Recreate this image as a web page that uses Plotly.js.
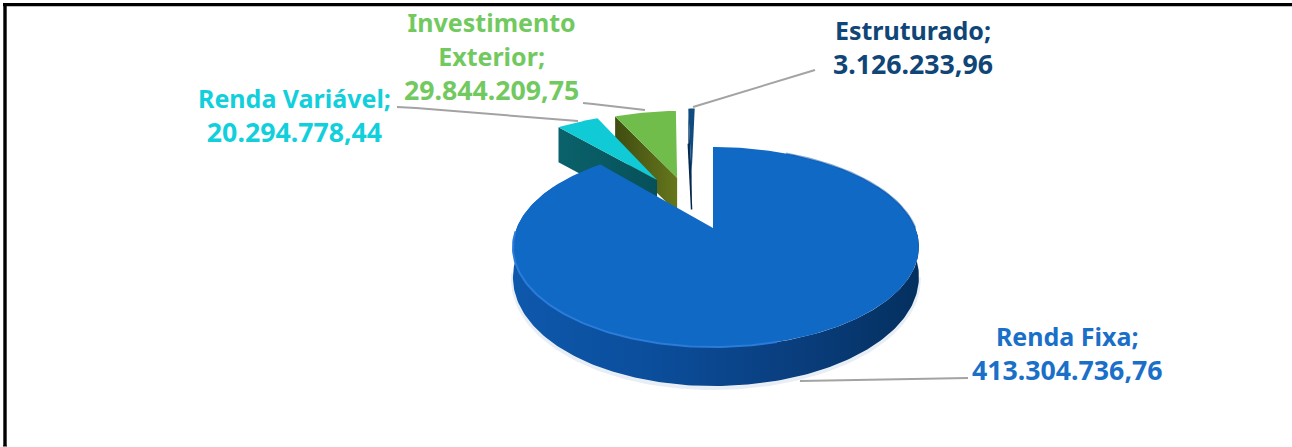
<!DOCTYPE html>
<html><head><meta charset="utf-8">
<script src="https://cdn.plot.ly/plotly-3.0.1.min.js"></script>
<style>html,body{margin:0;padding:0;background:#fff;overflow:hidden}#c{width:1292px;height:447px}</style>
</head><body><div id="c"></div>
<script>
const categories = ['Renda Fixa','Renda Variável','Investimento Exterior','Estruturado'];
const values = [413304736.76, 20294778.44, 29844209.75, 3126233.96];
const valueLabels = ['413.304.736,76','20.294.778,44','29.844.209,75','3.126.233,96'];

// Styles
const topColors  = ['#1169c6','#10cbd6','#70bd4c','#0f4a80'];
const sideColors = [['#0e58ac','#0b4e9c','#0a3f80','#04305f'],['#0a626a','#07505a'],['#3f4c10','#66761c'],['#0a3a6a','#06284c']];
const explodeU = [0,-0.31,-0.20,-0.12];
const explodeV = [0,0.55,0.58,0.62];

// 3D projection of the pie plane
const cx=713, cy=228, A=96.4, B=199.3, k=0.19;
function P(u,v,d,skew){const w=1+k*v;return [cx+B*u/w+(skew?3*Math.abs(u):0), cy-A*v/w+d];}
const total = values.reduce((a,b)=>a+b,0);
const traces=[];
let acc=0; const spans=values.map(v=>{const s=[acc/total*360,(acc+v)/total*360];acc+=v;return s;});
function arc(i,a0,a1,dep){
  const pts=[],n=Math.max(2,Math.ceil(Math.abs(a1-a0)));
  for(let j=0;j<=n;j++){const t=(a0+(a1-a0)*j/n)*Math.PI/180,u=Math.sin(t),v=Math.cos(t);
    pts.push(P(u+explodeU[i],v+explodeV[i],dep(v),i===0));}
  return pts;
}
function poly(pts,extra){traces.push(Object.assign({type:'scatter',mode:'lines',x:pts.map(p=>p[0]),y:pts.map(p=>p[1]),
  fill:'toself',line:{width:0},hoverinfo:'skip',showlegend:false},extra));}
function line(pts,color,w){traces.push({type:'scatter',mode:'lines',x:pts.map(p=>p[0]),y:pts.map(p=>p[1]),
  line:{width:w,color:color},hoverinfo:'skip',showlegend:false});}
function grad(cols){return {fillgradient:{type:'horizontal',colorscale:cols.map((c,i)=>[i/(cols.length-1),c])},fillcolor:cols[0]};}

// exploded slices, back to front
[3,2,1].forEach(i=>{
  const s=spans[i], top=arc(i,s[0],s[1],()=>0);
  const apex=P(explodeU[i],explodeV[i],0), apexB=P(explodeU[i],explodeV[i],35);
  const c0=top[0], c0b=[c0[0],c0[1]+35];
  poly([apex,c0,c0b,apexB,apex],grad(sideColors[i]));
  if(i===3) line([c0b,apexB],'#06284c',1.5);
  poly([apex].concat(top,[apex]),{fillcolor:topColors[i]});
});
// main slice
const depth=v=>v<0?28-11*v:28;
const s0=spans[0];
// soft halo under the front edge
line(arc(0,100,262,v=>depth(v)+2),'rgba(190,205,225,0.35)',4);
const sideTop=arc(0,62,298,()=>0), sideBot=arc(0,62,298,depth).reverse();
poly(sideTop.concat(sideBot),grad(sideColors[0]));
const apex0=P(0,0,0);
poly([apex0].concat(arc(0,s0[0],s0[1],()=>0),[apex0]),{fillcolor:topColors[0]});
line(arc(0,165,268,()=>0),'#2a7cd8',2);
line(arc(0,25,90,()=>0),'rgba(14,88,170,0.5)',2);

// leader lines
const leaders=[
 [[800,381],[968,378]],
 [[397,107],[416,108],[578,121]],
 [[583,103],[593,104],[645,110]],
 [[693,107],[815,70]]
];
leaders.forEach(l=>line(l,'#a3a3a3',2));

const fnt='"Noto Sans", sans-serif', baseSize=26, nameSize=25, valueSize=26.7;
const labelNames=['Renda Fixa;','Renda Variável;','Investimento<br>Exterior;','Estruturado;'];
const labelColors=['#1a6fc9','#12cfdc','#72c95f','#0f4677'];
const labelCx=[1067,294.5,491.5,913];
const labelCy=[353,115,56.5,47.5];
const nameSpan=t=>t.split('<br>').map(s=>'<span style="font-size:'+nameSize+'px">'+s+'</span>').join('<br>');
const annotations=labelNames.map((t,i)=>({
  text:'<b>'+nameSpan(t)+'<br><span style="font-size:'+valueSize+'px">'+valueLabels[i]+'</span></b>',
  x:labelCx[i],y:labelCy[i],xref:'x',yref:'y',showarrow:false,xanchor:'center',yanchor:'middle',align:'center',
  font:{family:fnt,size:baseSize,color:labelColors[i]}}));

const frame={type:'line',xref:'x',yref:'y',line:{color:'#000',width:3.4}};
const shapes=[
 Object.assign({x0:3,x1:1292,y0:4.6,y1:4.6},frame),
 Object.assign({x0:5,x1:5,y0:3,y1:446},frame),
 {type:'line',xref:'x',yref:'y',x0:3,x1:7,y0:446,y1:446,line:{color:'#000',width:1}}
];
Plotly.newPlot('c',traces,{
  width:1292,height:447,margin:{l:0,r:0,t:0,b:0},paper_bgcolor:'#fff',plot_bgcolor:'#fff',showlegend:false,
  xaxis:{range:[0,1292],visible:false,fixedrange:true},
  yaxis:{range:[447,0],visible:false,fixedrange:true},
  annotations:annotations,shapes:shapes
},{displayModeBar:false,staticPlot:true});
</script></body></html>
